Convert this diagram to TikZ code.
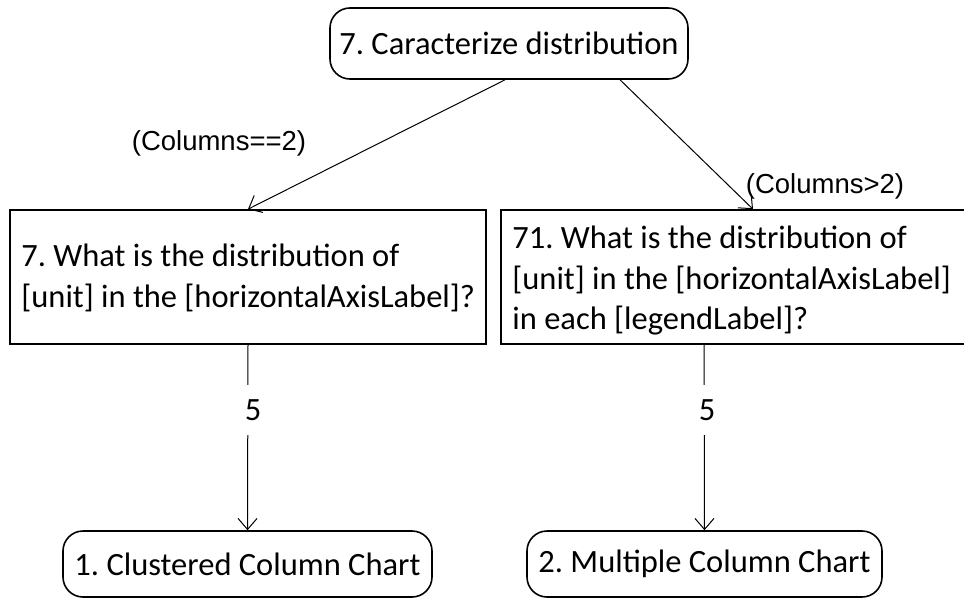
\documentclass[tikz,border=0pt]{standalone}
\usepackage{fontspec}
\setmainfont{Carlito}
\newfontfamily\arialfont{Liberation Sans}
\usetikzlibrary{arrows.meta,calc}
\frenchspacing
\begin{document}
\begin{tikzpicture}[x=1pt,y=-1pt,
  rbox/.style={draw,line width=1.6pt,rounded corners=20pt,inner sep=0pt},
  sbox/.style={draw,line width=1.6pt,inner sep=0pt},
  txt/.style={font=\frenchspacing\fontsize{32.5}{40.5}\selectfont,inner sep=0pt},
  cond/.style={font=\arialfont\fontsize{27.5}{32}\selectfont,inner sep=0pt},
  arr/.style={line width=1pt,-{Straight Barb[length=11pt,width=19pt,line width=1pt]}},
  num/.style={font=\fontsize{32.5}{36}\selectfont,fill=white,inner sep=0pt,minimum height=50pt,minimum width=22pt}]
\useasboundingbox (0,0) rectangle (964,599);
\fill[white] (0,0) rectangle (964,599);
\node[rbox,minimum width=358pt,minimum height=71pt,txt] (top) at (509,43.5) {7. Caracterize distribution};
\node[sbox,minimum width=476pt,minimum height=134pt] (lbox) at (248,277) {};
\node[sbox,minimum width=464pt,minimum height=134pt] (rbox) at (733,277) {};
\node[txt,anchor=west,align=left] (ltext) at ([xshift=12pt,yshift=-1pt]lbox.west) {7. What is the distribution of\\{}[unit] in the [horizontalAxisLabel]?};
\node[txt,anchor=west,align=left] (rtext) at ([xshift=12pt,yshift=-4pt]rbox.west) {71. What is the distribution of\\{}[unit] in the [horizontalAxisLabel]\\in each [legendLabel]?};
\node[rbox,minimum width=369pt,minimum height=66pt,txt] (bl) at (247.5,564) {1. Clustered Column Chart};
\node[rbox,minimum width=355pt,minimum height=66pt,txt] (br) at (704.5,564) {2. Multiple Column Chart};
\draw[arr] ([xshift=-4pt]top.south) -- (lbox.north);
\draw[arr] ([xshift=111pt]top.south) -- ([xshift=20pt]rbox.north);
\draw[arr] (lbox.south) -- (bl.north);
\draw[arr] ([xshift=-29pt]rbox.south) -- (br.north);
\node[num] (n1) at (253,410) {5};
\node[num] (n2) at (707,410) {5};
\node[cond] (c1) at (219,143) {(Columns==2)};
\node[cond] (c2) at (825,186) {(Columns>2)};
\end{tikzpicture}
\end{document}
